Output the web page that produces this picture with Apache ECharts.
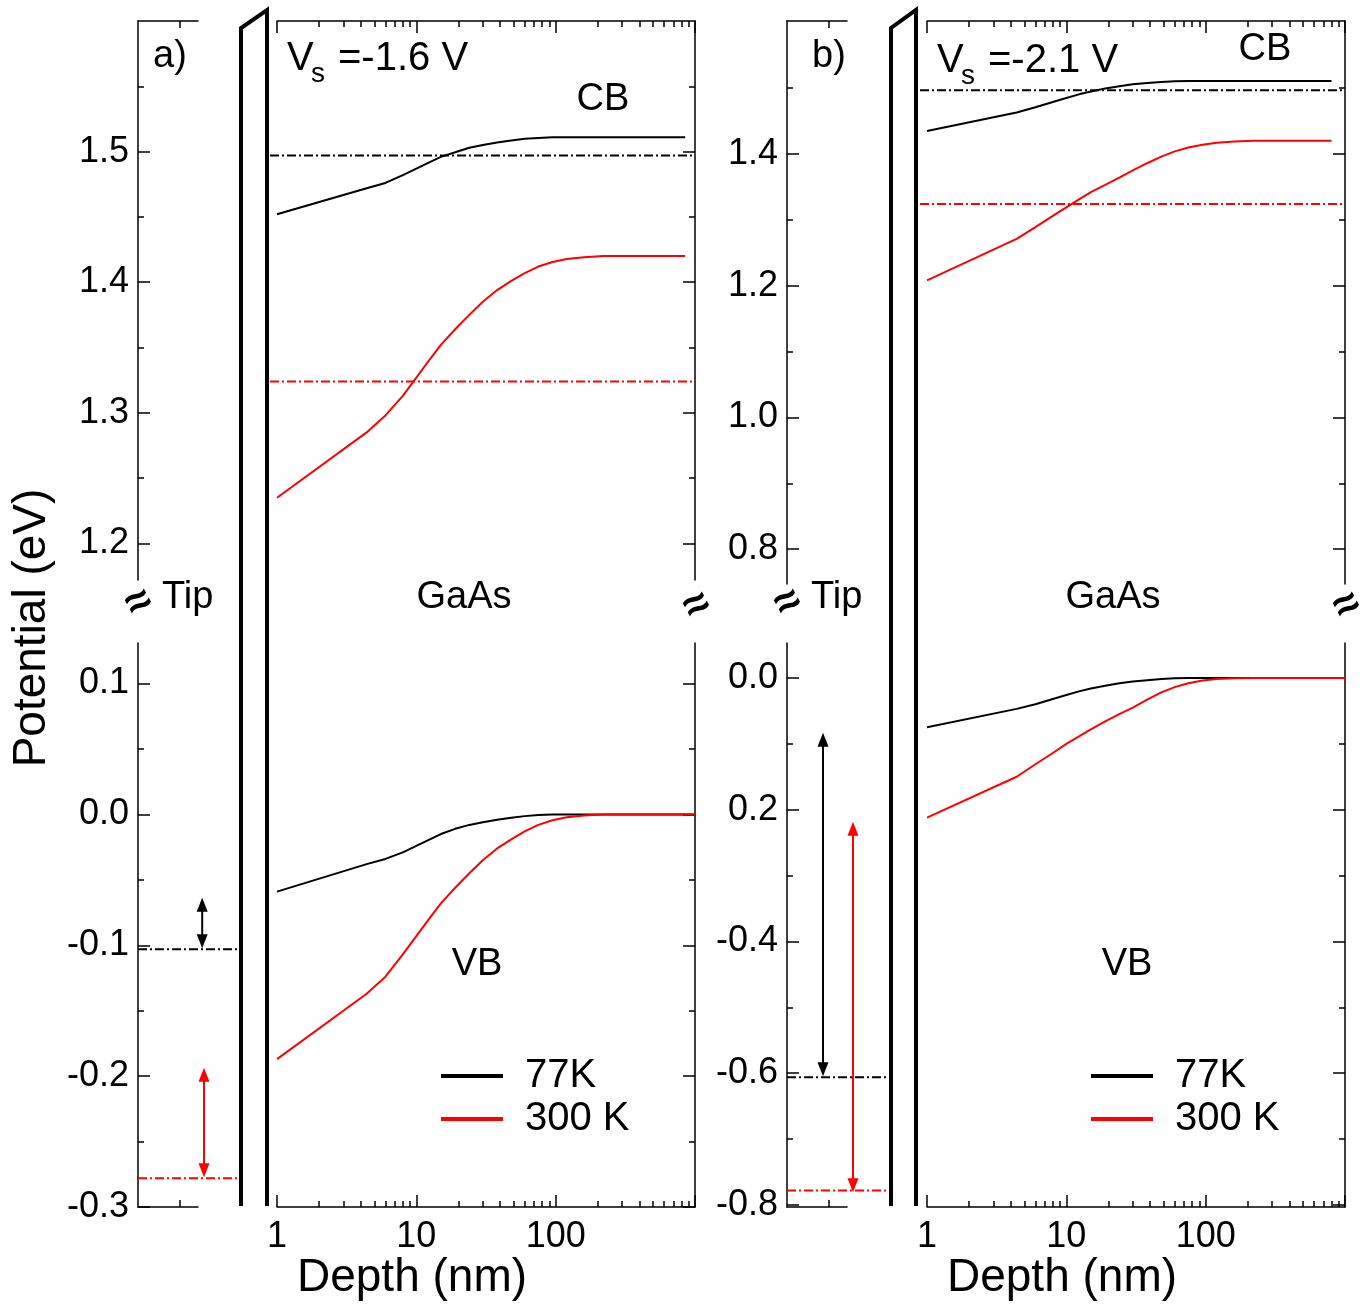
<!DOCTYPE html>
<html>
<head>
<meta charset="utf-8">
<title>Band bending at the tip / GaAs junction</title>
<script src="https://cdn.jsdelivr.net/npm/echarts@6.0.0/dist/echarts.min.js"></script>
<style>
  html, body { margin: 0; padding: 0; background: #ffffff; }
  #chart { width: 1370px; height: 1305px; }
</style>
</head>
<body>
<div id="chart"></div>
<script>
// ---------------- values ----------------
// depth below the surface (nm) at which the band edges are sampled
const depthCbA = [1, 4.4, 6, 8, 10, 12.5, 15, 19, 24, 30, 38, 48, 60, 75, 95, 120, 160, 220, 850];
const depthVbA = [1, 4.4, 6, 8, 10, 12.5, 15, 19, 24, 30, 38, 48, 60, 75, 95, 120, 160, 220, 1000];
const depthCbB = [1, 4.4, 6, 8, 10, 12.5, 15, 19, 24, 30, 38, 48, 60, 75, 95, 120, 160, 220, 800];
const depthVbB = [1, 4.4, 6, 8, 10, 12.5, 15, 19, 24, 30, 38, 48, 60, 75, 95, 120, 160, 220, 1000];

// panel a) Vs = -1.6 V : conduction / valence band edge (eV)
const cb77A  = [1.452, 1.472, 1.476, 1.482, 1.487, 1.492, 1.496, 1.4995, 1.503, 1.505, 1.507, 1.5085, 1.5098, 1.5105, 1.511, 1.511, 1.511, 1.511, 1.511];
const cb300A = [1.235, 1.285, 1.298, 1.313, 1.327, 1.341, 1.352, 1.364, 1.375, 1.385, 1.394, 1.401, 1.407, 1.412, 1.4155, 1.4178, 1.4192, 1.420, 1.420];
const vb77A  = [-0.059, -0.038, -0.034, -0.029, -0.024, -0.019, -0.015, -0.011, -0.008, -0.006, -0.004, -0.0025, -0.0013, -0.0005, -0.0001, 0, 0, 0, 0];
const vb300A = [-0.187, -0.137, -0.124, -0.107, -0.093, -0.079, -0.068, -0.056, -0.045, -0.035, -0.026, -0.019, -0.013, -0.008, -0.0045, -0.0022, -0.0008, 0, 0];

// panel b) Vs = -2.1 V
const cb77B  = [1.435, 1.463, 1.471, 1.479, 1.485, 1.491, 1.495, 1.4995, 1.503, 1.506, 1.508, 1.5095, 1.5105, 1.511, 1.511, 1.511, 1.511, 1.511, 1.511];
const cb300B = [1.208, 1.271, 1.289, 1.306, 1.319, 1.332, 1.342, 1.353, 1.364, 1.375, 1.386, 1.396, 1.404, 1.410, 1.414, 1.417, 1.419, 1.420, 1.420];
const vb77B  = [-0.075, -0.047, -0.040, -0.032, -0.026, -0.020, -0.016, -0.012, -0.008, -0.0055, -0.0035, -0.0015, -0.0005, 0, 0, 0, 0, 0, 0];
const vb300B = [-0.212, -0.150, -0.131, -0.114, -0.100, -0.088, -0.078, -0.066, -0.055, -0.045, -0.033, -0.022, -0.014, -0.008, -0.004, -0.0015, -0.0005, 0, 0];

// dash-dot reference levels in GaAs [77K, 300 K] (eV)
const cbLevelA = [1.497, 1.324];
const cbLevelB = [1.497, 1.324];
// tip levels [77K, 300 K] (eV)
const tipLevelA = [-0.103, -0.278];
const tipLevelB = [-0.606, -0.778];
// double arrows on the tip side: [upper head, lower head] (eV)
const arrow77A  = [-0.069, -0.097];
const arrow300A = [-0.199, -0.272];
const arrow77B  = [-0.094, -0.594];
const arrow300B = [-0.229, -0.770];

// axis ticks
const majorAUpper = [1.2, 1.3, 1.4, 1.5];
const minorAUpper = [1.25, 1.35, 1.45, 1.55];
const majorALower = [-0.3, -0.2, -0.1, 0.0, 0.1];
const minorALower = [-0.25, -0.15, -0.05, 0.05];
const majorBUpper = [0.8, 1.0, 1.2, 1.4];
const minorBUpper = [0.9, 1.1, 1.3, 1.5];
const majorBLower = [-0.8, -0.6, -0.4, -0.2, 0.0];
const minorBLower = [-0.7, -0.5, -0.3, -0.1];
const labelsAUpper = ['1.2', '1.3', '1.4', '1.5'];
const labelsALower = ['-0.3', '-0.2', '-0.1', '0.0', '0.1'];
const labelsBUpper = ['0.8', '1.0', '1.2', '1.4'];
const labelsBLower = ['-0.8', '-0.6', '-0.4', '0.2', '0.0'];
const depthMajor = [1, 10, 100, 1000];
const depthMinor = [2, 3, 4, 5, 6, 7, 8, 9, 20, 30, 40, 50, 60, 70, 80, 90, 200, 300, 400, 500, 600, 700, 800, 900];
const depthLabels = [1, 10, 100];

const seriesNames = ['77K', '300 K'];

// ---------------- styling / layout ----------------
const FONT = '"Liberation Sans", Arial, Helvetica, sans-serif';
const BLACK = '#000000';
const RED = '#ff0000';
const COLORS = [BLACK, RED];
const AXIS_LINE = { color: BLACK, width: 1.5 };
const DASH_DOT = [9, 3, 2, 3];
const TIP_W = 60;          // width of one tip-axis unit (px)
const TIP_SPAN = 1.7;      // tip-side drawing area, in tip-axis units
const GAAS_W = 418;
const LEVEL_PAD = 7;       // reference levels start this far left of depth = 1 nm (px)

const LAYOUT = [
  { tipLeft: 138, gaasLeft: 277, upper: [21, 580], lower: [643, 1207], barrier: [241, 267] },
  { tipLeft: 787, gaasLeft: 927, upper: [21, 584], lower: [643, 1207], barrier: [891, 916] }
];

const PANELS = [
  {
    upperRange: [1.172, 1.6], lowerRange: [-0.3, 0.131],
    upperMajor: majorAUpper, upperMinor: minorAUpper, upperLabels: labelsAUpper,
    lowerMajor: majorALower, lowerMinor: minorALower, lowerLabels: labelsALower,
    depthCb: depthCbA, depthVb: depthVbA,
    cb: [cb77A, cb300A], vb: [vb77A, vb300A],
    cbLevel: cbLevelA, tipLevel: tipLevelA,
    arrows: [arrow77A, arrow300A], arrowX: [1.07, 1.1]
  },
  {
    upperRange: [0.747, 1.602], lowerRange: [-0.803, 0.053],
    upperMajor: majorBUpper, upperMinor: minorBUpper, upperLabels: labelsBUpper,
    lowerMajor: majorBLower, lowerMinor: minorBLower, lowerLabels: labelsBLower,
    depthCb: depthCbB, depthVb: depthVbB,
    cb: [cb77B, cb300B], vb: [vb77B, vb300B],
    cbLevel: cbLevelB, tipLevel: tipLevelB,
    arrows: [arrow77B, arrow300B], arrowX: [0.6, 1.1]
  }
];

// ---------------- builders ----------------
const grids = [], xAxes = [], yAxes = [], series = [];

function addGrid(left, top, bottom, width) {
  grids.push({ left, top, width, height: bottom - top, containLabel: false, outerBoundsMode: 'none', show: false });
  return grids.length - 1;
}

function labelFormatter(values, texts) {
  return function (v) {
    for (let i = 0; i < values.length; i++) {
      if (Math.abs(values[i] - v) < 1e-6) return texts[i];
    }
    return '';
  };
}

function tickAxis(base, tickValues, len, showLine) {
  return Object.assign({}, base, {
    axisLine: { show: showLine, onZero: false, lineStyle: AXIS_LINE },
    axisTick: { show: true, inside: true, length: len, customValues: tickValues, lineStyle: AXIS_LINE },
    splitLine: { show: false },
    axisLabel: { show: false }
  });
}

function addYAxes(gridIndex, position, range, major, minor, labels) {
  const base = { type: 'value', gridIndex, position, min: range[0], max: range[1] };
  const main = tickAxis(base, major, 12, true);
  if (labels) {
    main.axisLabel = {
      show: true, customValues: major, formatter: labelFormatter(major, labels),
      fontSize: 36, fontFamily: FONT, color: BLACK, margin: 9
    };
  }
  yAxes.push(main);
  const idx = yAxes.length - 1;
  yAxes.push(tickAxis(base, minor, 6, false));
  return idx;
}

function addHiddenAxis(list, gridIndex, type, min, max) {
  list.push({ type, gridIndex, min, max, show: false, axisLine: { onZero: false } });
  return list.length - 1;
}

function addTipXAxis(gridIndex, position) {
  const base = { type: 'value', gridIndex, position, min: 0, max: 1 };
  xAxes.push(tickAxis(base, [0.7], 7, true));
  return xAxes.length - 1;
}

function addDepthAxes(gridIndex, position, withLabels) {
  const base = { type: 'log', logBase: 10, gridIndex, position, min: 1, max: 1000 };
  const main = tickAxis(base, depthMajor, 12, true);
  if (withLabels) {
    main.axisLabel = {
      show: true, customValues: depthLabels, formatter: (v) => String(Math.round(v)),
      fontSize: 36, fontFamily: FONT, color: BLACK, margin: 12
    };
  }
  xAxes.push(main);
  const idx = xAxes.length - 1;
  xAxes.push(tickAxis(base, depthMinor, 6, false));
  return idx;
}

function pairs(xs, ys) {
  return xs.map((x, i) => [x, ys[i]]);
}

function lineSeries(name, xi, yi, data, color, extra) {
  return Object.assign({
    type: 'line', name, xAxisIndex: xi, yAxisIndex: yi, data,
    symbol: 'none', showSymbol: false, clip: false, silent: true,
    itemStyle: { color }, lineStyle: { color, width: 2 },
    emphasis: { disabled: true }
  }, extra || {});
}

PANELS.forEach((P, pi) => {
  const L = LAYOUT[pi];
  const gTipU = addGrid(L.tipLeft, L.upper[0], L.upper[1], TIP_W);
  const gTipL = addGrid(L.tipLeft, L.lower[0], L.lower[1], TIP_W);
  // wider area on the tip side, same energy scale, for the tip levels and arrows
  const gTipD = addGrid(L.tipLeft, L.lower[0], L.lower[1], TIP_W * TIP_SPAN);
  const gGaU = addGrid(L.gaasLeft, L.upper[0], L.upper[1], GAAS_W);
  const gGaL = addGrid(L.gaasLeft, L.lower[0], L.lower[1], GAAS_W);
  // same depth scale reaching up to the barrier, for the reference levels
  const gLev = addGrid(L.gaasLeft - LEVEL_PAD, L.upper[0], L.upper[1], GAAS_W + LEVEL_PAD);
  const levelMin = Math.pow(10, -3 * LEVEL_PAD / GAAS_W);

  addTipXAxis(gTipU, 'top');
  addTipXAxis(gTipL, 'bottom');
  addYAxes(gTipU, 'left', P.upperRange, P.upperMajor, P.upperMinor, P.upperLabels);
  addYAxes(gTipL, 'left', P.lowerRange, P.lowerMajor, P.lowerMinor, P.lowerLabels);
  const xTipD = addHiddenAxis(xAxes, gTipD, 'value', 0, TIP_SPAN);
  const yTipD = addHiddenAxis(yAxes, gTipD, 'value', P.lowerRange[0], P.lowerRange[1]);

  const xGaU = addDepthAxes(gGaU, 'top', false);
  const xGaL = addDepthAxes(gGaL, 'bottom', true);
  const yGaU = addYAxes(gGaU, 'right', P.upperRange, P.upperMajor, P.upperMinor, null);
  const yGaL = addYAxes(gGaL, 'right', P.lowerRange, P.lowerMajor, P.lowerMinor, null);
  const xLev = addHiddenAxis(xAxes, gLev, 'log', levelMin, 1000);
  const yLev = addHiddenAxis(yAxes, gLev, 'value', P.upperRange[0], P.upperRange[1]);

  [0, 1].forEach((k) => {
    const c = COLORS[k];
    // dash-dot reference level across GaAs
    series.push(lineSeries('level ' + pi + k, xLev, yLev,
      [[levelMin, P.cbLevel[k]], [1000, P.cbLevel[k]]], c,
      { lineStyle: { color: c, width: 2, type: DASH_DOT } }));
    // band edges
    series.push(lineSeries(seriesNames[k], xGaU, yGaU, pairs(P.depthCb, P.cb[k]), c, { z: 3 }));
    series.push(lineSeries(seriesNames[k], xGaL, yGaL, pairs(P.depthVb, P.vb[k]), c, { z: 3 }));
    // tip level
    series.push(lineSeries('tip ' + pi + k, xTipD, yTipD,
      [[0, P.tipLevel[k]], [1.65, P.tipLevel[k]]], c,
      { lineStyle: { color: c, width: 2, type: DASH_DOT } }));
    // double arrow
    const a = P.arrows[k];
    series.push(lineSeries('shift ' + pi + k, xTipD, yTipD,
      [{ value: [P.arrowX[k], a[0]], symbolRotate: 0 },
       { value: [P.arrowX[k], a[1]], symbolRotate: 180 }], c,
      { symbol: 'triangle', showSymbol: true, symbolSize: [11, 14], z: 4 }));
  });
});

// ---------------- text and frame ----------------
function txt(text, x, y, size, extra) {
  return Object.assign({
    type: 'text', x, y, silent: true,
    style: { text, fontSize: size, fontFamily: FONT, fill: BLACK, align: 'left', verticalAlign: 'middle' }
  }, extra || {});
}
function txtC(text, x, y, size) {
  const t = txt(text, x, y, size);
  t.style.align = 'center';
  return t;
}
function breakMark(x, y) {
  return {
    type: 'text', x, y, rotation: 0.5, silent: true,
    style: { text: '\u2248', fontSize: 44, fontWeight: 'bold', fontFamily: FONT, fill: BLACK, align: 'center', verticalAlign: 'middle' }
  };
}
function barrier(xl, xr) {
  return {
    type: 'polyline', silent: true,
    shape: { points: [[xl, 1206], [xl, 28], [xr, 10], [xr, 1206]] },
    style: { stroke: BLACK, lineWidth: 4, fill: null, lineJoin: 'miter' }
  };
}

const graphics = [
  barrier(LAYOUT[0].barrier[0], LAYOUT[0].barrier[1]),
  barrier(LAYOUT[1].barrier[0], LAYOUT[1].barrier[1]),
  txt('Potential (eV)', 32, 628, 46, { rotation: Math.PI / 2, style: { text: 'Potential (eV)', fontSize: 46, fontFamily: FONT, fill: BLACK, align: 'center', verticalAlign: 'middle' } }),
  // panel a
  txtC('a)', 170, 57, 38),
  txt('V', 287, 59, 40), txt('s', 311, 74, 28), txt('=-1.6 V', 338, 59, 40),
  txtC('CB', 603, 100, 38),
  txt('Tip', 162, 598, 38), txtC('GaAs', 464, 598, 38),
  txtC('VB', 477, 965, 38),
  txtC('Depth (nm)', 412, 1278, 46),
  breakMark(139, 603), breakMark(697, 606),
  // panel b
  txtC('b)', 829, 57, 38),
  txt('V', 937, 61, 40), txt('s', 961, 76, 28), txt('=-2.1 V', 988, 61, 40),
  txtC('CB', 1265, 50, 38),
  txt('Tip', 811, 598, 38), txtC('GaAs', 1113, 598, 38),
  txtC('VB', 1127, 965, 38),
  txtC('Depth (nm)', 1062, 1278, 46),
  breakMark(788, 603), breakMark(1347, 606)
];

function legendAt(left) {
  return {
    left, top: 1056, orient: 'vertical', padding: 0, itemGap: 3,
    data: seriesNames, icon: 'rect', itemWidth: 62, itemHeight: 4,
    selectedMode: false,
    textStyle: { fontSize: 40, fontFamily: FONT, color: BLACK, padding: [0, 0, 0, 17], lineHeight: 40 }
  };
}

const chart = echarts.init(document.getElementById('chart'), null, { renderer: 'canvas' });
chart.setOption({
  animation: false,
  backgroundColor: '#ffffff',
  textStyle: { fontFamily: FONT },
  grid: grids,
  xAxis: xAxes,
  yAxis: yAxes,
  legend: [legendAt(441), legendAt(1091)],
  series,
  graphic: { elements: graphics }
});
</script>
</body>
</html>
